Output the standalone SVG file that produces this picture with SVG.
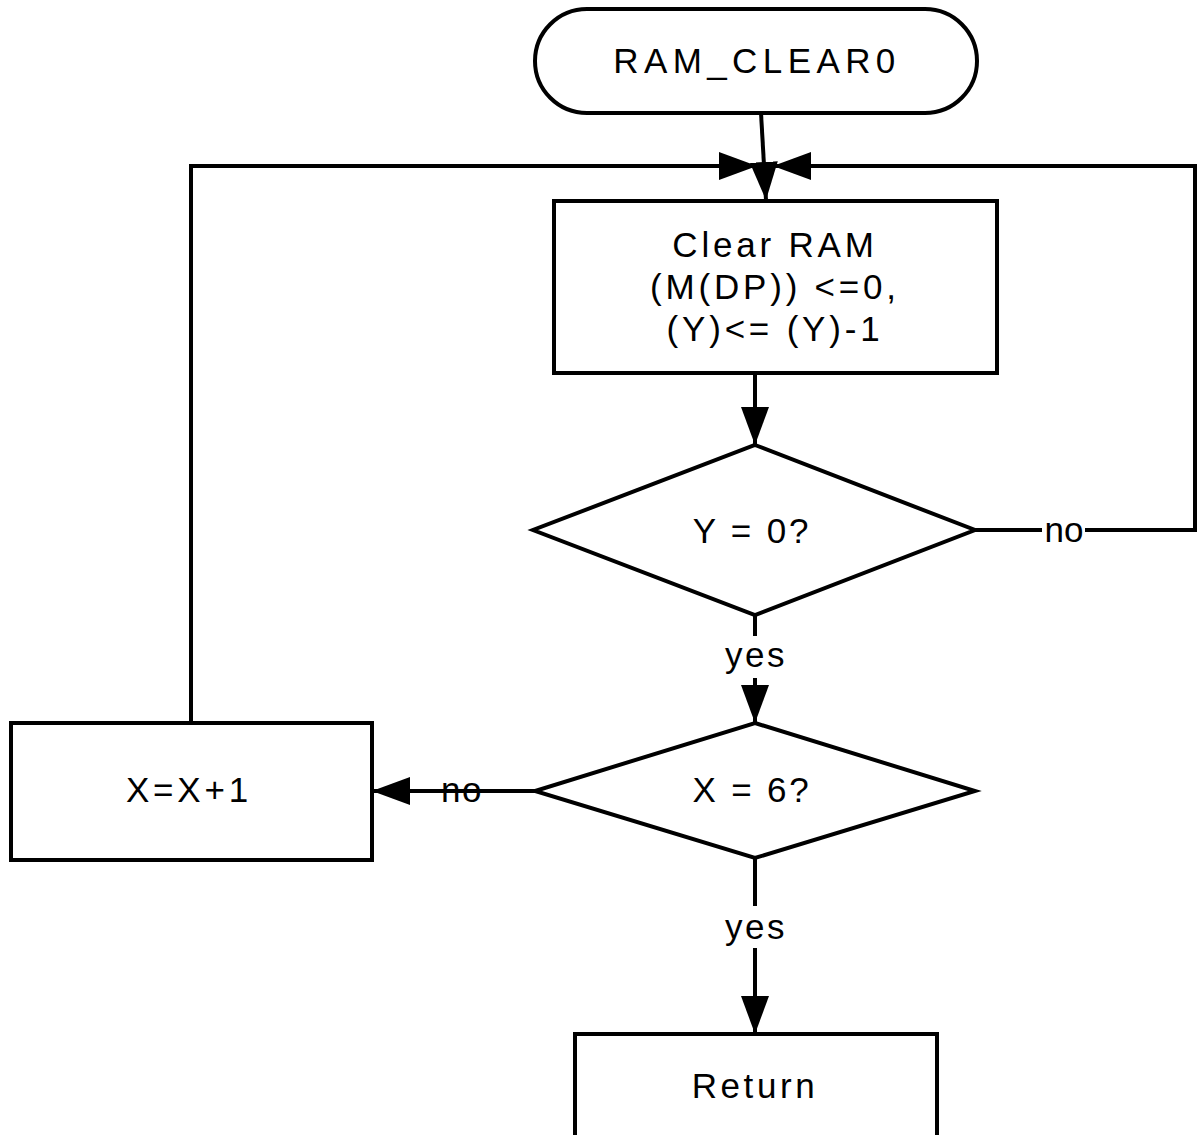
<svg xmlns="http://www.w3.org/2000/svg" width="1198" height="1135" viewBox="0 0 1198 1135">
<style>
.shape{fill:#fff;stroke:#000;stroke-width:4}
.conn{fill:none;stroke:#000;stroke-width:4}
.t{font-family:"Liberation Sans",Arial,sans-serif;font-size:35px;fill:#000;text-anchor:middle}
.bg{fill:#fff;stroke:none}
</style>
<defs>
<marker id="arr" markerUnits="userSpaceOnUse" markerWidth="40" markerHeight="30" refX="38" refY="14" orient="auto">
<path d="M0,0 L38,14 L0,28 z" fill="#000"/>
</marker>
</defs>
<rect width="1198" height="1135" fill="#fff"/>
<g id="connectors">
<path class="conn" d="M761,113 L766,200" marker-end="url(#arr)"/>
<path class="conn" d="M191,723 V166 H757" marker-end="url(#arr)"/>
<path class="conn" d="M975,530 H1195 V166 H773" marker-end="url(#arr)"/>
<path class="conn" d="M755,373 V445" marker-end="url(#arr)"/>
<path class="conn" d="M755,615 V723" marker-end="url(#arr)"/>
<path class="conn" d="M535,791 H372" marker-end="url(#arr)"/>
<path class="conn" d="M755,858 V1034" marker-end="url(#arr)"/>
<rect class="bg" x="1042" y="518" width="43" height="28"/>
<text class="t" x="1064" y="542">no</text>
<rect class="bg" x="722" y="636" width="64" height="42"/>
<text class="t" x="756" y="667" letter-spacing="2.5">yes</text>
<text class="t" x="462" y="802" letter-spacing="1.5">no</text>
<rect class="bg" x="722" y="906" width="64" height="42"/>
<text class="t" x="756" y="939" letter-spacing="2.5">yes</text>
</g>
<g id="start">
<rect class="shape" x="535" y="9" width="442" height="104" rx="52" ry="52"/>
<text class="t" x="757" y="73" letter-spacing="5.4">RAM_CLEAR0</text>
</g>
<g id="clear_ram">
<rect class="shape" x="554" y="201" width="443" height="172"/>
<text class="t" x="775" y="257" letter-spacing="3.8">Clear RAM</text>
<text class="t" x="775" y="299" letter-spacing="3.8">(M(DP)) &lt;=0,</text>
<text class="t" x="775" y="341" letter-spacing="3.8">(Y)&lt;= (Y)-1</text>
</g>
<g id="check_y">
<polygon class="shape" points="755,445 975,530 755,615 533,530"/>
<text class="t" x="752" y="543" letter-spacing="2.8">Y = 0?</text>
</g>
<g id="check_x">
<polygon class="shape" points="755,723 975,791 755,858 535,791"/>
<text class="t" x="752" y="802" letter-spacing="2.8">X = 6?</text>
</g>
<g id="inc_x">
<rect class="shape" x="11" y="723" width="361" height="137"/>
<text class="t" x="189" y="802" letter-spacing="3.8">X=X+1</text>
</g>
<g id="return">
<rect class="shape" x="575" y="1034" width="362" height="120"/>
<text class="t" x="755" y="1098" letter-spacing="3.6">Return</text>
</g>
</svg>
